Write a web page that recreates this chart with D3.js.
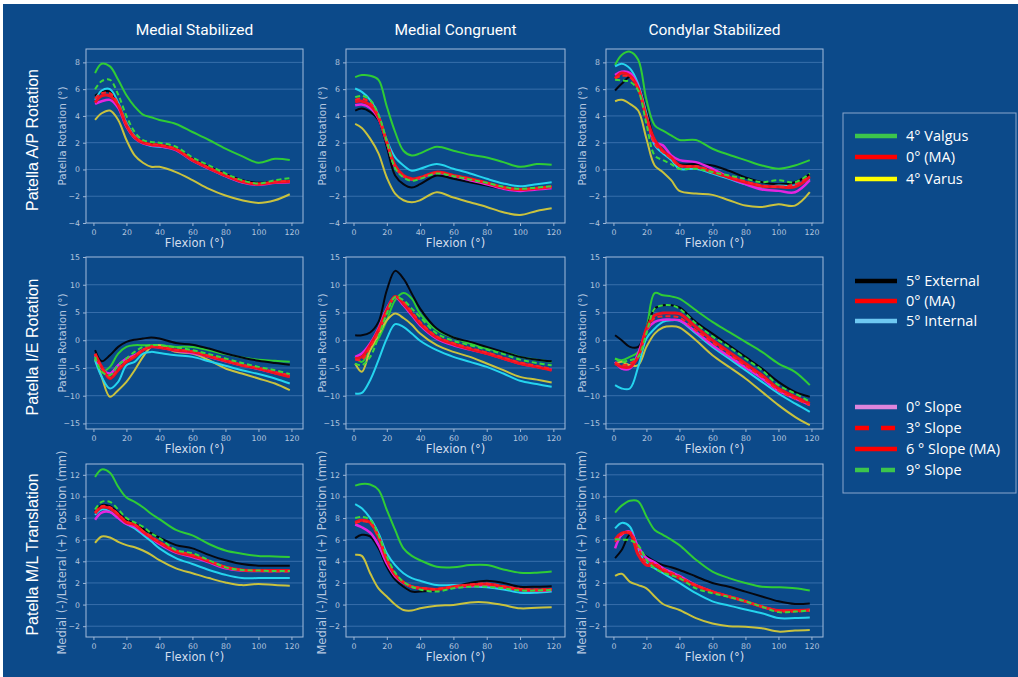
<!DOCTYPE html>
<html>
<head>
<meta charset="utf-8">
<script src="https://cdn.jsdelivr.net/npm/d3@7"></script>
<style>
  html, body { margin: 0; padding: 0; background: #ffffff; }
  svg { display: block; }
</style>
</head>
<body>
<svg id="chart" width="1018" height="677"></svg>
<script>
// ---- data ----
const flexion = [1, 5, 10, 15, 20, 25, 30, 35, 40, 50, 60, 70, 80, 90, 100, 110, 119];

const columnTitles = ['Medial Stabilized', 'Medial Congruent', 'Condylar Stabilized'];
const rowTitles = ['Patella A/P Rotation', 'Patella I/E Rotation', 'Patella M/L Translation'];
const rowYLabels = ['Patella Rotation (°)', 'Patella Rotation (°)', 'Medial (-)/Lateral (+) Position (mm)'];

// series order inside every panel array
const seriesKeys = ['valgus', 'ma', 'varus', 'external', 'internal', 'slope0', 'slope3', 'slope9'];

// row 1: A/P rotation
const apMedialStabilized = [
    [7.2, 7.9, 7.7, 6.7, 5.55, 4.7, 4.1, 3.9, 3.7, 3.4, 2.8, 2.2, 1.55, 1.0, 0.5, 0.8, 0.7],
    [5.0, 5.5, 5.5, 4.8, 3.3, 2.4, 2.0, 1.85, 1.8, 1.5, 0.7, 0.1, -0.45, -0.9, -1.1, -0.95, -0.9],
    [3.7, 4.2, 4.4, 3.7, 2.2, 1.05, 0.5, 0.2, 0.2, -0.2, -0.8, -1.45, -1.95, -2.3, -2.5, -2.3, -1.85],
    [5.5, 5.8, 5.8, 4.9, 3.4, 2.5, 2.05, 1.9, 1.85, 1.55, 0.8, 0.2, -0.35, -0.8, -1.0, -0.9, -0.85],
    [5.2, 5.9, 6.0, 5.0, 3.5, 2.5, 2.0, 1.75, 1.7, 1.5, 0.7, 0.1, -0.5, -0.95, -1.1, -0.95, -0.9],
    [4.9, 5.1, 5.2, 4.6, 3.2, 2.35, 1.95, 1.8, 1.75, 1.45, 0.65, 0.05, -0.5, -0.95, -1.15, -1.0, -0.95],
    [5.3, 5.7, 5.7, 4.9, 3.4, 2.45, 2.05, 1.9, 1.85, 1.55, 0.75, 0.15, -0.4, -0.85, -1.05, -0.9, -0.85],
    [6.0, 6.6, 6.7, 5.6, 4.0, 2.8, 2.2, 2.05, 2.0, 1.7, 0.9, 0.3, -0.3, -0.8, -1.05, -0.8, -0.65]
];
const apMedialCongruent = [
    [6.9, 7.05, 7.0, 6.7, 4.7, 2.8, 1.4, 1.05, 1.2, 1.7, 1.4, 1.1, 0.9, 0.55, 0.2, 0.4, 0.35],
    [5.05, 5.1, 4.8, 3.9, 2.05, 0.3, -0.45, -0.7, -0.6, -0.2, -0.45, -0.7, -1.0, -1.35, -1.5, -1.4, -1.3],
    [3.4, 3.1, 2.3, 1.2, -0.6, -1.8, -2.3, -2.45, -2.3, -1.7, -2.1, -2.45, -2.8, -3.2, -3.4, -3.1, -2.9],
    [4.4, 4.55, 4.3, 3.7, 1.7, -0.45, -1.1, -1.35, -1.1, -0.45, -0.7, -0.95, -1.2, -1.45, -1.6, -1.5, -1.4],
    [6.05, 5.8, 5.2, 4.05, 2.2, 0.9, 0.3, -0.1, 0.05, 0.4, 0.05, -0.3, -0.7, -1.05, -1.25, -1.1, -0.95],
    [4.8, 4.85, 4.6, 3.8, 2.0, 0.2, -0.5, -0.75, -0.65, -0.25, -0.5, -0.8, -1.1, -1.45, -1.6, -1.5, -1.4],
    [5.2, 5.3, 5.0, 4.0, 2.05, 0.2, -0.5, -0.75, -0.6, -0.25, -0.45, -0.7, -1.0, -1.35, -1.5, -1.4, -1.3],
    [5.4, 5.5, 5.2, 4.1, 2.1, 0.1, -0.6, -0.85, -0.7, -0.3, -0.5, -0.75, -1.0, -1.3, -1.45, -1.35, -1.25]
];
const apCondylarStabilized = [
    [7.8, 8.55, 8.8, 8.2, 5.2, 3.3, 2.9, 2.55, 2.2, 2.2, 1.55, 1.1, 0.7, 0.3, 0.05, 0.3, 0.7],
    [6.8, 7.2, 7.0, 6.05, 3.9, 2.2, 1.4, 0.9, 0.3, 0.2, -0.2, -0.6, -0.95, -1.25, -1.3, -1.3, -0.55],
    [5.1, 5.2, 4.9, 4.4, 2.3, 0.3, -0.2, -0.8, -1.6, -1.8, -1.9, -2.3, -2.7, -2.8, -2.6, -2.7, -1.7],
    [5.9, 6.4, 6.9, 6.3, 4.4, 2.2, 1.4, 0.8, 0.4, 0.4, 0.3, -0.1, -0.6, -0.95, -1.1, -0.95, -0.35],
    [7.7, 7.9, 7.55, 6.4, 4.2, 1.8, 1.2, 0.7, 0.05, 0.05, -0.3, -0.7, -1.1, -1.35, -1.2, -1.2, -0.7],
    [7.05, 7.3, 7.2, 6.2, 3.9, 2.05, 1.8, 1.05, 0.7, 0.55, 0.05, -0.6, -1.1, -1.5, -1.6, -1.7, -0.8],
    [6.8, 7.0, 6.9, 6.0, 3.8, 1.9, 1.3, 0.8, 0.25, 0.25, -0.1, -0.5, -0.9, -1.2, -1.3, -1.1, -0.5],
    [6.7, 6.65, 6.55, 5.9, 3.4, 1.05, 0.7, 0.4, 0.05, 0.05, -0.2, -0.45, -0.7, -0.95, -0.8, -0.95, -0.3]
];

// row 2: I/E rotation
const ieMedialStabilized = [
    [-3.6, -5.7, -4.8, -2.4, -1.2, -0.9, -0.9, -0.9, -0.9, -1.2, -1.2, -1.8, -2.5, -3.1, -3.5, -3.7, -3.9],
    [-2.4, -4.8, -6.9, -5.4, -3.9, -3.0, -1.8, -1.2, -1.3, -1.8, -2.1, -2.9, -3.7, -4.5, -5.1, -5.9, -6.6],
    [-3.3, -6.6, -10.2, -9.0, -7.5, -5.4, -3.0, -1.2, -0.9, -2.1, -2.4, -3.6, -5.1, -6.0, -6.9, -7.8, -9.0],
    [-1.8, -3.8, -2.7, -1.2, -0.3, 0.1, 0.3, 0.5, 0.3, -0.5, -0.8, -1.5, -2.4, -3.1, -3.7, -4.1, -4.4],
    [-3.6, -6.6, -8.7, -7.5, -4.5, -3.9, -2.4, -2.1, -2.3, -2.7, -3.0, -3.8, -4.6, -5.4, -6.1, -6.9, -7.8],
    [-2.7, -5.1, -6.0, -4.5, -3.3, -2.7, -1.8, -1.2, -1.3, -1.9, -2.3, -3.0, -3.8, -4.5, -5.2, -5.9, -6.5],
    [-2.5, -5.0, -6.7, -5.2, -3.7, -2.8, -1.7, -1.1, -1.2, -1.7, -2.0, -2.8, -3.6, -4.4, -5.0, -5.7, -6.3],
    [-3.0, -5.7, -6.3, -4.5, -3.3, -2.1, -1.2, -0.9, -0.9, -1.3, -1.8, -2.5, -3.3, -4.1, -4.8, -5.4, -6.1]
];
const ieMedialCongruent = [
    [-3.0, -3.9, -1.8, 0.3, 3.6, 7.2, 8.5, 7.5, 4.8, 1.8, 0.5, -0.6, -1.5, -2.1, -3.0, -3.5, -3.9],
    [-3.3, -3.0, -0.9, 1.8, 5.4, 7.9, 6.6, 4.8, 3.0, 0.5, -0.7, -1.6, -2.4, -3.3, -4.2, -4.8, -5.4],
    [-4.2, -5.7, -1.8, 0.9, 3.6, 4.8, 4.0, 2.8, 1.2, -0.9, -2.1, -3.0, -4.2, -5.4, -6.6, -7.1, -7.6],
    [0.9, 0.9, 1.4, 3.3, 9.0, 12.5, 11.1, 8.4, 5.7, 2.1, 0.5, -0.3, -1.2, -2.1, -3.0, -3.5, -3.8],
    [-9.6, -9.5, -7.2, -3.6, 0.3, 2.9, 2.4, 1.2, -0.1, -1.8, -3.0, -3.9, -4.8, -6.0, -7.3, -7.9, -8.4],
    [-3.0, -2.4, -0.6, 2.1, 5.7, 7.8, 6.3, 4.5, 2.7, 0.3, -0.9, -1.7, -2.4, -3.3, -4.2, -4.8, -5.3],
    [-3.5, -3.5, -1.2, 1.5, 5.0, 7.8, 6.9, 5.1, 3.3, 0.7, -0.5, -1.4, -2.2, -3.1, -4.0, -4.6, -5.2],
    [-4.2, -4.5, -3.0, 0.6, 4.8, 7.8, 7.2, 5.7, 4.2, 1.2, -0.1, -0.9, -1.7, -2.5, -3.5, -4.1, -4.5]
];
const ieCondylarStabilized = [
    [-3.3, -3.6, -3.0, -2.1, 2.1, 8.5, 8.1, 7.9, 7.5, 5.4, 3.3, 1.5, -0.3, -2.1, -4.2, -5.7, -8.1],
    [-4.2, -4.8, -4.8, -3.0, 2.1, 4.5, 4.9, 4.9, 4.8, 2.4, 0.0, -2.1, -4.2, -6.3, -8.7, -10.2, -11.4],
    [-4.2, -3.9, -4.5, -4.5, -1.2, 1.2, 2.3, 2.5, 2.3, 0.0, -2.7, -4.8, -6.9, -9.3, -11.7, -13.8, -15.3],
    [0.9, 0.0, -1.2, -1.2, 2.1, 5.7, 6.3, 6.3, 5.9, 3.3, 1.2, -0.9, -3.0, -5.1, -7.5, -9.3, -10.2],
    [-8.1, -8.7, -8.7, -4.8, 0.3, 2.1, 3.3, 3.6, 3.5, 1.2, -1.2, -3.3, -5.4, -7.5, -9.6, -11.4, -12.9],
    [-3.9, -5.1, -5.1, -2.4, 1.8, 3.3, 3.7, 3.7, 3.6, 1.5, -0.9, -2.9, -4.9, -6.9, -9.1, -10.5, -11.7],
    [-4.0, -4.5, -4.2, -3.0, 1.5, 4.0, 4.3, 4.3, 4.1, 1.8, -0.4, -2.5, -4.6, -6.6, -9.0, -10.5, -11.7],
    [-3.3, -3.9, -3.6, -3.0, 1.2, 5.7, 6.3, 6.3, 5.7, 3.0, 0.7, -1.2, -3.3, -5.4, -8.1, -9.6, -11.1]
];

// row 3: M/L translation
const mlMedialStabilized = [
    [11.8, 12.5, 12.2, 10.9, 9.9, 9.5, 9.0, 8.4, 7.9, 6.9, 6.4, 5.6, 5.0, 4.7, 4.5, 4.45, 4.4],
    [8.45, 9.0, 8.9, 8.3, 7.6, 7.4, 6.75, 6.2, 5.75, 4.9, 4.5, 4.0, 3.45, 3.2, 3.15, 3.15, 3.15],
    [5.7, 6.3, 6.2, 5.8, 5.5, 5.3, 5.0, 4.6, 4.1, 3.35, 2.9, 2.45, 2.05, 1.8, 1.9, 1.8, 1.75],
    [8.6, 9.2, 9.1, 8.5, 7.8, 7.5, 7.0, 6.6, 6.2, 5.5, 5.2, 4.6, 4.1, 3.75, 3.6, 3.6, 3.6],
    [8.3, 8.8, 8.6, 8.0, 7.45, 7.05, 6.45, 5.85, 5.2, 4.3, 3.75, 3.2, 2.75, 2.45, 2.45, 2.45, 2.45],
    [7.85, 8.5, 8.55, 8.0, 7.45, 7.2, 6.65, 6.15, 5.6, 4.8, 4.4, 3.9, 3.35, 3.15, 3.1, 3.1, 3.1],
    [8.5, 9.1, 9.0, 8.4, 7.7, 7.4, 6.8, 6.3, 5.8, 5.0, 4.6, 4.05, 3.5, 3.2, 3.1, 3.05, 3.05],
    [8.8, 9.5, 9.5, 8.8, 8.0, 7.6, 7.2, 6.6, 6.15, 5.05, 4.75, 4.1, 3.45, 3.2, 3.15, 3.1, 3.1]
];
const mlMedialCongruent = [
    [11.0, 11.15, 11.1, 10.6, 8.75, 6.9, 5.2, 4.5, 4.1, 3.5, 3.45, 3.65, 3.65, 3.25, 2.95, 2.95, 3.05],
    [7.6, 7.8, 7.6, 6.25, 4.15, 2.75, 2.05, 1.65, 1.5, 1.4, 1.65, 1.8, 1.9, 1.65, 1.4, 1.35, 1.4],
    [4.6, 4.5, 2.9, 1.5, 0.75, 0.0, -0.5, -0.55, -0.35, -0.1, -0.05, 0.2, 0.2, -0.05, -0.35, -0.3, -0.25],
    [6.15, 6.45, 6.3, 5.2, 3.5, 2.3, 1.65, 1.2, 1.2, 1.35, 1.65, 2.0, 2.2, 2.0, 1.65, 1.65, 1.7],
    [9.3, 8.9, 8.0, 6.6, 4.75, 3.65, 2.9, 2.45, 2.2, 1.8, 1.8, 1.7, 1.6, 1.4, 1.1, 1.1, 1.2],
    [7.4, 7.15, 6.65, 5.5, 3.8, 2.6, 2.0, 1.65, 1.5, 1.4, 1.6, 1.7, 1.8, 1.6, 1.35, 1.3, 1.35],
    [7.5, 7.7, 7.5, 6.2, 4.2, 2.8, 2.1, 1.7, 1.55, 1.45, 1.65, 1.85, 1.95, 1.7, 1.45, 1.4, 1.45],
    [8.0, 8.1, 7.85, 6.45, 4.45, 2.95, 2.1, 1.65, 1.4, 1.2, 1.5, 1.65, 1.65, 1.5, 1.3, 1.3, 1.35]
];
const mlCondylarStabilized = [
    [8.5, 9.15, 9.6, 9.55, 8.15, 6.9, 6.45, 6.0, 5.5, 4.15, 3.05, 2.45, 2.0, 1.65, 1.6, 1.5, 1.3],
    [6.0, 6.6, 6.6, 4.6, 3.65, 3.65, 3.15, 2.8, 2.45, 1.75, 1.2, 0.75, 0.3, -0.2, -0.55, -0.55, -0.5],
    [2.65, 2.85, 2.1, 1.8, 1.5, 0.75, 0.05, -0.25, -0.5, -1.25, -1.75, -2.0, -2.05, -2.2, -2.5, -2.4, -2.35],
    [4.3, 5.05, 6.45, 5.05, 4.45, 4.0, 3.65, 3.45, 3.2, 2.6, 2.0, 1.65, 1.2, 0.75, 0.3, 0.05, 0.1],
    [7.05, 7.55, 7.2, 5.05, 3.8, 3.35, 2.9, 2.45, 2.0, 1.05, 0.3, -0.1, -0.45, -0.8, -1.25, -1.25, -1.2],
    [5.2, 6.45, 6.75, 5.35, 4.3, 3.9, 3.35, 3.0, 2.65, 1.8, 1.2, 0.75, 0.3, -0.2, -0.55, -0.55, -0.5],
    [5.8, 6.5, 6.7, 5.2, 3.9, 3.8, 3.3, 2.95, 2.6, 1.8, 1.2, 0.75, 0.3, -0.2, -0.6, -0.65, -0.55],
    [6.05, 6.0, 5.95, 5.5, 4.15, 3.35, 2.95, 2.7, 2.45, 1.5, 1.05, 0.7, 0.3, -0.2, -0.7, -0.65, -0.55]
];

const xTicks = [0, 20, 40, 60, 80, 100, 120];
const yDomains = [[-4, 9], [-16, 15], [-3, 13]];
const yTicks = [
    [-4, -2, 0, 2, 4, 6, 8],
    [-15, -10, -5, 0, 5, 10, 15],
    [-2, 0, 2, 4, 6, 8, 10, 12]
];

const legendLabels = ['4° Valgus', '0° (MA)', '4° Varus',
    '5° External', '0° (MA)', '5° Internal',
    '0° Slope', '3° Slope', '6 ° Slope (MA)', '9° Slope'];

// ---- styles ----
const lineStyle = {
    valgus:   { color: '#2fcc35', width: 2 },
    ma:       { color: '#f01020', width: 3 },
    varus:    { color: '#c9c23e', width: 2 },
    external: { color: '#05070f', width: 2 },
    internal: { color: '#25d4ee', width: 2 },
    slope0:   { color: '#e425e0', width: 2.5 },
    slope3:   { color: '#ff2020', width: 2, dash: '5,3' },
    slope9:   { color: '#3ad83a', width: 2, dash: '5,3' }
};
const drawOrder = ['valgus', 'varus', 'external', 'internal', 'slope0', 'ma', 'slope3', 'slope9'];

const legendStyle = [
    { color: '#3cc64c' }, { color: '#ff0000' }, { color: '#ffff00' },
    { color: '#000000' }, { color: '#ff0000' }, { color: '#6ec8f2' },
    { color: '#de85dc' }, { color: '#ff0000', dash: '14,12' }, { color: '#ff0000' }, { color: '#3cc64c', dash: '14,12' }
];
const legendY = [136, 157, 179, 281, 301, 321, 407, 428, 449, 470];

const bg = '#0c4a8a';
const panels = [
    [apMedialStabilized, apMedialCongruent, apCondylarStabilized],
    [ieMedialStabilized, ieMedialCongruent, ieCondylarStabilized],
    [mlMedialStabilized, mlMedialCongruent, mlCondylarStabilized]
];

const colX = [86, 346, 606];
const colW = [217, 219, 217];
const rowY = [49, 257, 464];
const rowH = [174, 172, 173];
const yLabelSize = ['10.5px', '10.5px', '11.5px'];

const svg = d3.select('#chart');

svg.append('rect')
    .attr('x', 3).attr('y', 4)
    .attr('width', 1015).attr('height', 673)
    .attr('fill', bg);

// column titles
columnTitles.forEach((t, c) => {
    svg.append('text')
        .attr('x', colX[c] + colW[c] / 2)
        .attr('y', 35)
        .attr('text-anchor', 'middle')
        .attr('fill', '#ffffff')
        .style('font-family', 'Roboto, "Liberation Sans", sans-serif')
        .style('font-size', '15.5px')
        .text(t);
});

// row titles
rowTitles.forEach((t, r) => {
    svg.append('text')
        .attr('transform', `translate(38,${rowY[r] + rowH[r] / 2 + 4}) rotate(-90)`)
        .attr('text-anchor', 'middle')
        .attr('fill', '#ffffff')
        .style('font-family', '"Liberation Sans", Arial, sans-serif')
        .style('font-size', '16px')
        .text(t);
});

const line = (x, y) => d3.line()
    .x((d, i) => x(flexion[i]))
    .y(d => y(d))
    .curve(d3.curveCatmullRom.alpha(0.5));

panels.forEach((rowPanels, r) => {
    rowPanels.forEach((values, c) => {
        const w = colW[c], h = rowH[r];
        const g = svg.append('g')
            .attr('transform', `translate(${colX[c]},${rowY[r]})`);

        const x = d3.scaleLinear().domain([-4.5, 127]).range([0, w]);
        const y = d3.scaleLinear().domain(yDomains[r]).range([h, 0]);

        // grid
        g.append('g')
            .selectAll('line')
            .data(yTicks[r].filter(v => y(v) > 1 && y(v) < h - 1))
            .join('line')
            .attr('x1', 0).attr('x2', w)
            .attr('y1', d => y(d)).attr('y2', d => y(d))
            .attr('stroke', '#5587c2')
            .attr('stroke-opacity', 0.6)
            .attr('stroke-width', 1);

        // axes
        const yAx = g.append('g')
            .call(d3.axisLeft(y).tickValues(yTicks[r]).tickSize(3).tickPadding(3)
                .tickFormat(d => d < 0 ? '\u2212' + Math.abs(d) : d));
        const xAx = g.append('g')
            .attr('transform', `translate(0,${h})`)
            .call(d3.axisBottom(x).tickValues(xTicks).tickSize(3).tickPadding(3));
        [yAx, xAx].forEach(a => {
            a.select('.domain').remove();
            a.selectAll('line').attr('stroke', '#9db6d6');
            a.selectAll('text')
                .attr('fill', '#b3c5de')
                .style('font-family', '"DejaVu Sans", sans-serif')
                .style('font-size', '7.8px');
        });

        // lines
        const clipId = `clip-${r}-${c}`;
        g.append('clipPath').attr('id', clipId)
            .append('rect').attr('width', w).attr('height', h);
        const lg = g.append('g').attr('clip-path', `url(#${clipId})`);
        drawOrder.forEach(key => {
            const s = lineStyle[key];
            lg.append('path')
                .datum(values[seriesKeys.indexOf(key)])
                .attr('d', line(x, y))
                .attr('fill', 'none')
                .attr('stroke', s.color)
                .attr('stroke-width', s.width)
                .attr('stroke-dasharray', s.dash || null)
                .attr('stroke-linejoin', 'round');
        });

        // frame
        g.append('rect')
            .attr('width', w).attr('height', h)
            .attr('fill', 'none')
            .attr('stroke', '#a3bcdb')
            .attr('stroke-width', 1);

        // axis labels
        g.append('text')
            .attr('x', w / 2)
            .attr('y', h + 24)
            .attr('text-anchor', 'middle')
            .attr('fill', '#d3deed')
            .style('font-family', '"DejaVu Sans", sans-serif')
            .style('font-size', '11.5px')
            .text('Flexion (°)');
        g.append('text')
            .attr('transform', `translate(-20,${h / 2 + (r === 2 ? 2 : 0)}) rotate(-90)`)
            .attr('text-anchor', 'middle')
            .attr('fill', '#b7c8e0')
            .style('font-family', '"DejaVu Sans", sans-serif')
            .style('font-size', yLabelSize[r])
            .text(rowYLabels[r]);
    });
});

// legend
const legend = svg.append('g');
legend.append('rect')
    .attr('x', 843).attr('y', 113)
    .attr('width', 173).attr('height', 380)
    .attr('fill', 'none')
    .attr('stroke', '#8aa6cc')
    .attr('stroke-width', 1);
legendLabels.forEach((label, i) => {
    const s = legendStyle[i];
    legend.append('line')
        .attr('x1', 855).attr('x2', 897)
        .attr('y1', legendY[i]).attr('y2', legendY[i])
        .attr('stroke', s.color)
        .attr('stroke-width', 4.5)
        .attr('stroke-dasharray', s.dash || null);
    legend.append('text')
        .attr('x', 906)
        .attr('y', legendY[i] + 5)
        .attr('fill', '#ffffff')
        .style('font-family', '"Open Sans", sans-serif')
        .style('font-size', '14.5px')
        .text(label);
});
</script>
</body>
</html>
